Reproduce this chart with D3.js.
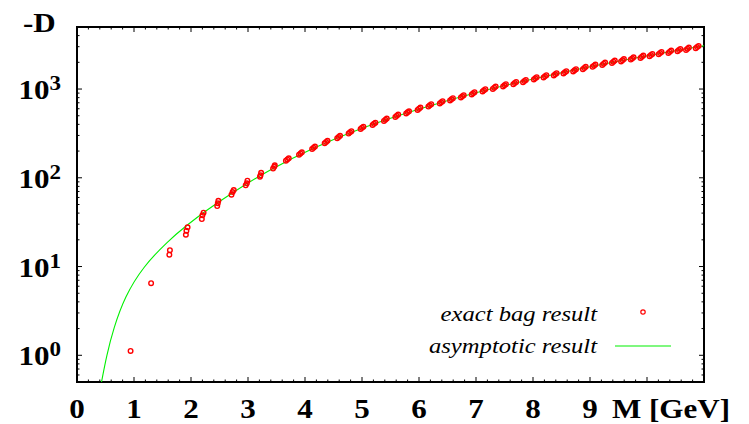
<!DOCTYPE html>
<html>
<head>
<meta charset="utf-8">
<script src="https://cdn.jsdelivr.net/npm/d3@7"></script>
<style>
html, body { margin: 0; padding: 0; background: #fff; }
svg { display: block; font-family: "Liberation Serif", "Times New Roman", serif; }
</style>
</head>
<body>
<div id="root"><svg></svg></div>
<script>
const width = 749, height = 424;
const sx = 1.15; // the print is a bit stretched sideways

const xTickValues = [0, 1, 2, 3, 4, 5, 6, 7, 8, 9, 10];
const xTickLabels = ['0', '1', '2', '3', '4', '5', '6', '7', '8', '9', 'M [GeV]'];
const yTickValues = [1, 10, 100, 1000];
const yTickExps = ['0', '1', '2', '3'];

// exact bag result, [M, -D]
const bagPoints = [
  [0.94, 1.12], [1.30, 6.5],
  [1.63, 15.3], [1.62, 13.6],
  [1.94, 27.7], [1.92, 25.3], [1.91, 22.8],
  [2.22, 40.4], [2.20, 37.8], [2.19, 34.3],
  [2.48, 55], [2.47, 51.5], [2.46, 48],
  [2.75, 72.8], [2.73, 69], [2.71, 64.4],
  [2.99, 92.7], [2.98, 86.5], [2.96, 82.2],
  [3.23, 114], [3.22, 106.7], [3.21, 103],
  [3.47, 138], [3.46, 133], [3.44, 127],
  [3.715, 166], [3.69, 161], [3.665, 156],
  [3.945, 194], [3.92, 188], [3.895, 182],
  [4.175, 225], [4.15, 218], [4.125, 211],
  [4.395, 261], [4.37, 253], [4.345, 245],
  [4.615, 297], [4.59, 288], [4.565, 279],
  [4.815, 335], [4.79, 325], [4.765, 315],
  [5.025, 377], [5.00, 366], [4.975, 355],
  [5.235, 418], [5.21, 406], [5.185, 394],
  [5.435, 465], [5.41, 451], [5.385, 437],
  [5.635, 515], [5.61, 500], [5.585, 485],
  [5.825, 562], [5.80, 546], [5.775, 530],
  [6.025, 618], [6.00, 600], [5.975, 582],
  [6.215, 675], [6.19, 655], [6.165, 635],
  [6.415, 729], [6.39, 708], [6.365, 687],
  [6.595, 789], [6.57, 766], [6.545, 743],
  [6.785, 853], [6.76, 828], [6.735, 803],
  [6.975, 922], [6.95, 895], [6.925, 868],
  [7.165, 996], [7.14, 967], [7.115, 938],
  [7.345, 1066], [7.32, 1035], [7.295, 1004],
  [7.525, 1134], [7.50, 1101], [7.475, 1068],
  [7.705, 1204], [7.68, 1169], [7.655, 1134],
  [7.875, 1268], [7.85, 1231], [7.825, 1194],
  [8.065, 1361], [8.04, 1321], [8.015, 1281],
  [8.235, 1433], [8.21, 1391], [8.185, 1349],
  [8.415, 1509], [8.39, 1465], [8.365, 1421],
  [8.585, 1589], [8.56, 1543], [8.535, 1497],
  [8.755, 1674], [8.73, 1625], [8.705, 1576],
  [8.925, 1777], [8.90, 1725], [8.875, 1673],
  [9.095, 1887], [9.07, 1832], [9.045, 1777],
  [9.265, 1987], [9.24, 1929], [9.215, 1871],
  [9.435, 2092], [9.41, 2031], [9.385, 1970],
  [9.595, 2173], [9.57, 2110], [9.545, 2047],
  [9.765, 2280], [9.74, 2214], [9.715, 2148],
  [9.935, 2380], [9.91, 2311], [9.885, 2242],
  [10.095, 2487], [10.07, 2415], [10.045, 2343],
  [10.255, 2621], [10.23, 2545], [10.205, 2469],
  [10.425, 2712], [10.40, 2633], [10.375, 2554],
  [10.585, 2833], [10.56, 2750], [10.535, 2668],
  [10.735, 2930], [10.71, 2845], [10.685, 2760],
  [10.905, 3061], [10.88, 2972], [10.855, 2883]
];

// asymptotic result, [M, -D]
const asymPoints = [
  [0.43, 0.5], [0.52, 1.0], [0.64, 2.0], [0.84, 4.6], [1.16, 10],
  [1.60, 19.5], [1.92, 29], [2.27, 43], [2.71, 67], [3.36, 122],
  [4.15, 220], [5.0, 368], [6.0, 602], [7.14, 968], [8.04, 1322],
  [9.07, 1832], [10.07, 2420], [11.0, 3080]
];

const legendLabels = ['exact bag result', 'asymptotic result'];

const svg = d3.select('#root').select('svg')
    .attr('width', width)
    .attr('height', height);

const x = d3.scaleLinear().domain([0, 11]).range([77, 704]);
const y = d3.scaleLog().domain([0.5, 5000]).range([382, 27]);

const [x0, x1] = x.range();
const [y0, y1] = y.range();

svg.append('clipPath').attr('id', 'clip')
  .append('rect')
    .attr('x', x0).attr('y', y1)
    .attr('width', x1 - x0).attr('height', y0 - y1);

// ticks, gnuplot style: on all four sides, pointing inward
const tickG = svg.append('g').attr('stroke', '#000').attr('stroke-width', 1);
const xMinor = d3.range(0, 11.001, 0.2).map(v => +v.toFixed(1));
xMinor.forEach(v => {
  const len = Number.isInteger(v) ? 5 : 2.5;
  tickG.append('line').attr('x1', x(v)).attr('x2', x(v)).attr('y1', y0).attr('y2', y0 - len);
  tickG.append('line').attr('x1', x(v)).attr('x2', x(v)).attr('y1', y1).attr('y2', y1 + len);
});
const yMinor = [];
[0.1, 1, 10, 100, 1000].forEach(dec => {
  for (let k = 1; k <= 9; k++) {
    const v = dec * k;
    if (v >= 0.5 && v <= 5000) yMinor.push(v);
  }
});
yMinor.forEach(v => {
  const len = yTickValues.includes(v) ? 5 : 2.5;
  tickG.append('line').attr('x1', x0).attr('x2', x0 + len).attr('y1', y(v)).attr('y2', y(v));
  tickG.append('line').attr('x1', x1).attr('x2', x1 - len).attr('y1', y(v)).attr('y2', y(v));
});

// frame
svg.append('rect')
    .attr('x', x0).attr('y', y1)
    .attr('width', x1 - x0).attr('height', y0 - y1)
    .attr('fill', 'none')
    .attr('stroke', '#000')
    .attr('stroke-width', 2);

// stretched text helper
function label(g, px, py, txt, opts) {
  const t = g.append('g')
      .attr('transform', `translate(${px},${py}) scale(${opts.sx || sx},1)`)
    .append('text')
      .attr('font-family', '"Liberation Serif", "Times New Roman", serif')
      .attr('text-anchor', opts.anchor || 'middle')
      .attr('font-size', opts.size)
      .attr('font-weight', opts.weight || 'normal')
      .attr('font-style', opts.style || 'normal')
      .text(txt);
  return t;
}

const labels = svg.append('g').attr('fill', '#000');

xTickValues.forEach((v, i) => {
  const isName = i === xTickLabels.length - 1;
  label(labels, x(v) + (isName ? 24 : 0), 418, xTickLabels[i], {size: 27, weight: 'bold'});
});

yTickValues.forEach((v, i) => {
  const t = label(labels, 61, y(v) + 10, '10', {size: 27, weight: 'bold', anchor: 'end'});
  t.append('tspan')
      .attr('dy', -9)
      .attr('font-size', 20)
      .text(yTickExps[i]);
});

label(labels, 23, 32, '-D', {size: 27, weight: 'bold', anchor: 'start'});

// asymptotic curve
const line = d3.line()
    .x(d => x(d[0]))
    .y(d => y(d[1]))
    .curve(d3.curveBasis);

svg.append('path')
    .datum(asymPoints)
    .attr('clip-path', 'url(#clip)')
    .attr('fill', 'none')
    .attr('stroke', '#00f000')
    .attr('stroke-width', 1.1)
    .attr('d', line);

// exact bag points
svg.append('g')
    .attr('clip-path', 'url(#clip)')
  .selectAll('circle')
  .data(bagPoints)
  .enter()
  .append('circle')
    .attr('cx', d => x(d[0]))
    .attr('cy', d => y(d[1]))
    .attr('r', 2.3)
    .attr('fill', 'none')
    .attr('stroke', '#ff0000')
    .attr('stroke-width', 1.4);

// legend
const legend = svg.append('g');
label(legend, 597, 321, legendLabels[0], {size: 22, style: 'italic', anchor: 'end', sx: 1.12});
label(legend, 597, 353, legendLabels[1], {size: 22, style: 'italic', anchor: 'end', sx: 1.12});
legend.append('circle')
    .attr('cx', 643).attr('cy', 312).attr('r', 2.2)
    .attr('fill', 'none').attr('stroke', '#ff0000').attr('stroke-width', 1.2);
legend.append('line')
    .attr('x1', 615).attr('x2', 671).attr('y1', 346).attr('y2', 346)
    .attr('stroke', '#00f000').attr('stroke-width', 1.1);
</script>
</body>
</html>
